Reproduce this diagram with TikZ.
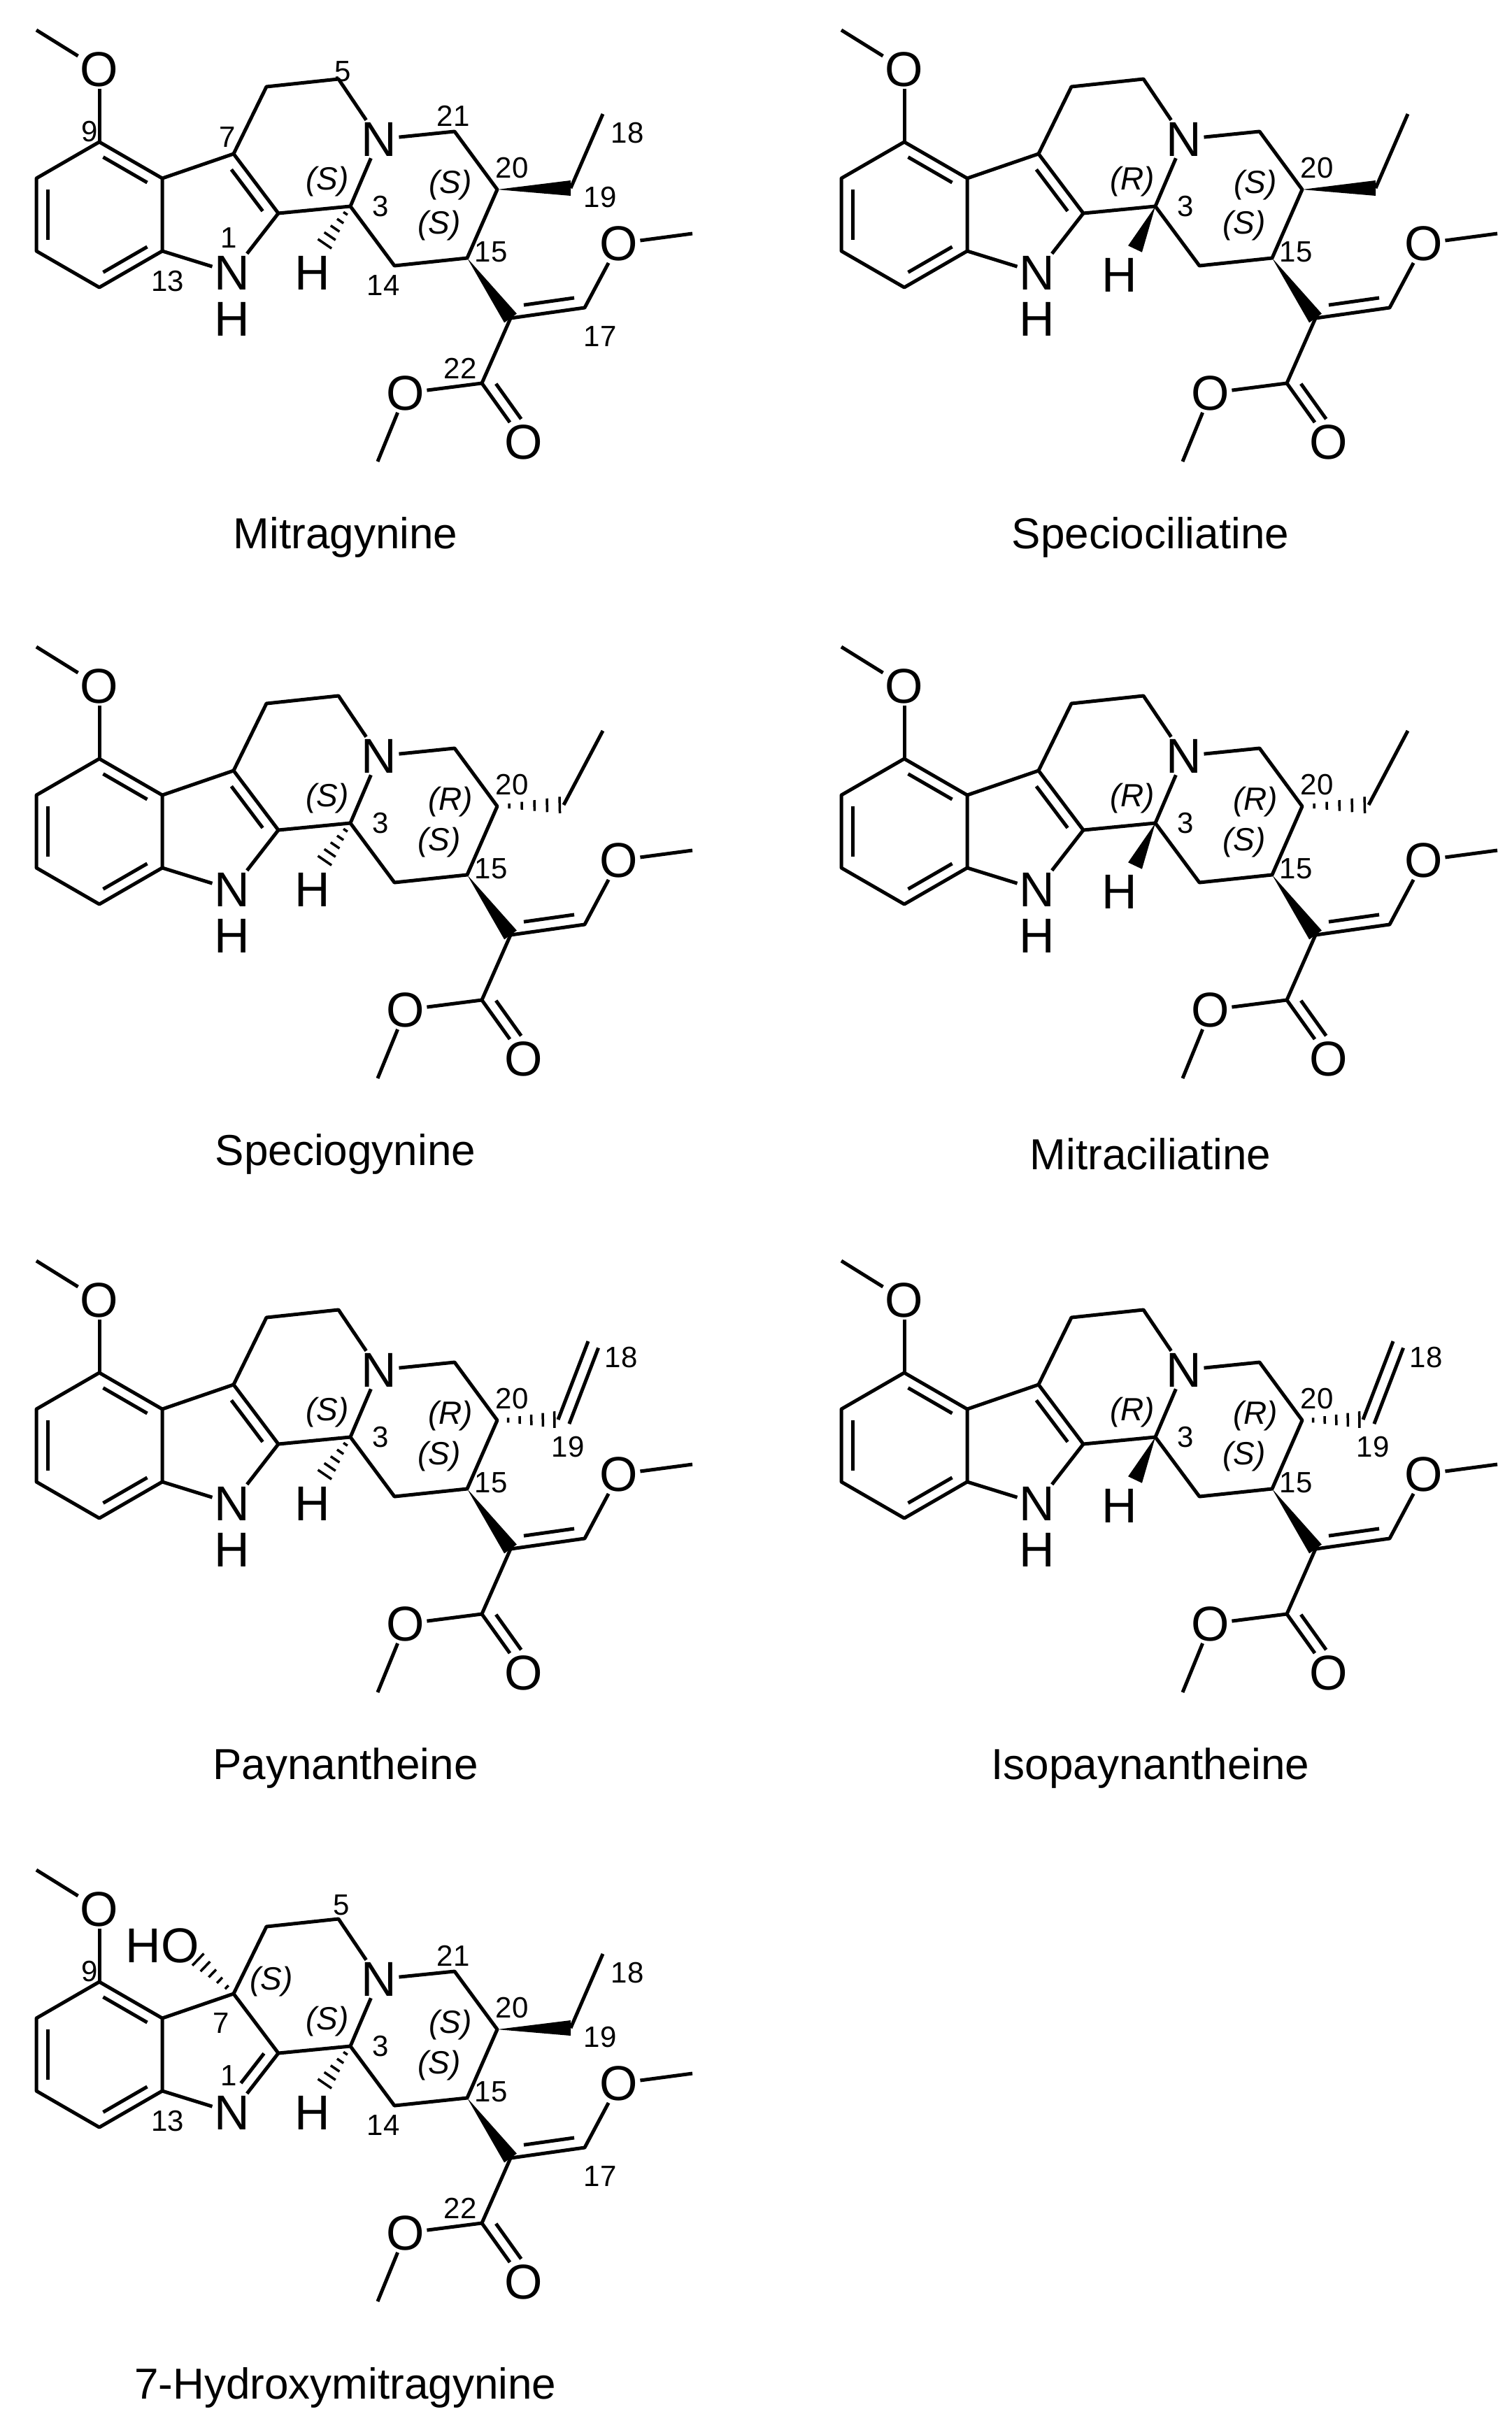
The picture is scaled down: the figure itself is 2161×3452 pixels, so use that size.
\documentclass[tikz,border=0pt]{standalone}
\usepackage{fontspec}
\setmainfont{Liberation Sans}
\usetikzlibrary{calc}
\tikzset{
  bond/.style={line width=5pt,line join=round},
  atom/.style={font=\fontsize{70}{70}\selectfont,inner sep=3pt},
  num/.style={font=\fontsize{42}{42}\selectfont,inner sep=0pt},
  ster/.style={font=\fontsize{46}{46}\selectfont\itshape,inner sep=0pt},
  title/.style={font=\fontsize{62}{62}\selectfont,inner sep=0pt},
}
% double-bond second line: a, b, angle, t1, t2, offset
\newcommand\dbl[6]{\draw[bond] ($(#1)!#4!(#2)!#6!#3:(#2)$) -- ($(#1)!#5!(#2)!#6!#3:(#2)$);}
\newcommand\wdg[2]{\fill (#1) -- ($(#2)!11pt!90:(#1)$) -- ($(#2)!11pt!-90:(#1)$) -- cycle;}
\newcommand\hsh[2]{\foreach \t in {0.18,0.37,0.56,0.75,0.94}{%
  \pgfmathsetlengthmacro\w{1.5pt+11pt*\t}%
  \draw[line width=3.5pt] ($(#1)!\t!(#2)!\w!90:(#2)$) -- ($(#1)!\t!(#2)!\w!-90:(#2)$);}}
\newcommand\skel{%
  \coordinate (Me9) at (52,43);
  \node[atom] (O9) at (142,99) {O};
  \coordinate (C9) at (142,203);
  \coordinate (C10) at (52,255);
  \coordinate (C11) at (52,359);
  \coordinate (C12) at (142,411);
  \coordinate (C13) at (232,359);
  \coordinate (C8) at (232,255);
  \coordinate (C7) at (334,220);
  \coordinate (C2) at (398,305);
  \node[atom] (N1) at (332,390) {N};
  \coordinate (C6) at (381,124);
  \coordinate (C5) at (484,113);
  \node[atom] (N4) at (542,199) {N};
  \coordinate (C3) at (501,295);
  \coordinate (C14) at (564,380);
  \coordinate (C15) at (668,369);
  \coordinate (C20) at (711,271);
  \coordinate (C21) at (650,188);
  \coordinate (C16) at (730,455);
  \coordinate (C17) at (836,440);
  \node[atom] (O17) at (885,348) {O};
  \coordinate (Me17) at (990,334);
  \coordinate (C22) at (689,548);
  \node[atom] (Oe) at (580,562) {O};
  \coordinate (MeE) at (540,660);
  \node[atom] (Oc) at (749,632) {O};
  \draw[bond] (Me9) -- (O9);
  \draw[bond] (O9) -- (C9);
  \draw[bond] (C9) -- (C10) -- (C11) -- (C12) -- (C13) -- (C8) -- cycle;
  \draw[bond] (C8) -- (C7) -- (C2);
  \draw[bond] (C7) -- (C6) -- (C5) -- (N4);
  \draw[bond] (N4) -- (C3);
  \draw[bond] (C3) -- (C2);
  \draw[bond] (C2) -- (N1);
  \draw[bond] (N1) -- (C13);
  \draw[bond] (C3) -- (C14) -- (C15) -- (C20) -- (C21) -- (N4);
  \draw[bond] (C16) -- (C17) -- (O17);
  \draw[bond] (O17) -- (Me17);
  \draw[bond] (C16) -- (C22) -- (Oe);
  \draw[bond] (Oe) -- (MeE);
  \draw[bond] (C22) -- (Oc);
  \wdg{C15}{C16}
  \dbl{C9}{C8}{-90}{0.15}{0.85}{16pt}
  \dbl{C10}{C11}{90}{0.15}{0.85}{16pt}
  \dbl{C12}{C13}{90}{0.15}{0.85}{16pt}
  \dbl{C16}{C17}{90}{0.2}{0.88}{16pt}
  \dbl{C22}{Oc}{90}{0.12}{0.72}{16pt}
}
\newcommand\indolNH{%
  \dbl{C7}{C2}{-90}{0.15}{0.85}{16pt}
  \node[atom] (H1) at (332,456) {H};
}
\newcommand\Hdown{%
  \coordinate (Hend) at (462,352);
  \node[atom] (H3) at (447,390) {H};
  \hsh{C3}{Hend}
}
\newcommand\Hup{%
  \coordinate (Hend) at (472,356);
  \node[atom] (H3) at (450,393) {H};
  \wdg{C3}{Hend}
}
\newcommand\ethylup{%
  \coordinate (C19) at (816,269);
  \coordinate (C18) at (862,163);
  \wdg{C20}{C19}
  \draw[bond] (C19) -- (C18);
}
\newcommand\ethyldown{%
  \coordinate (C19) at (806,269);
  \coordinate (C18) at (862,163);
  \hsh{C20}{C19}
  \draw[bond] (C19) -- (C18);
}
\newcommand\vinyl{%
  \coordinate (C19) at (798,270);
  \coordinate (C18) at (841,158);
  \hsh{C20}{C19}
  \draw[bond] (C19) -- (C18);
  \dbl{C19}{C18}{-90}{0.0}{0.97}{17pt}
  \node[num] (L18) at (888,181) {18};
  \node[num] (L19) at (812,309) {19};
}
\newcommand\basicnums[3]{%
  \node[num] (L3) at (544,295) {3};
  \node[num] (L20) at (732,240) {20};
  \node[num] (L15) at (702,360) {15};
  \node[ster] (S3) at (468,260) {(#1)};
  \node[ster] (S20) at (644,265) {(#2)};
  \node[ster] (S15) at (628,323) {(#3)};
}
\begin{document}
\begin{tikzpicture}[x=1pt,y=-1pt]
\useasboundingbox (0,0) rectangle (2161,3452);
% Mitragynine
\begin{scope}[name prefix=a-]
  \skel \indolNH \Hdown \ethylup
  \basicnums{S}{S}{S}
  \node[num] (L5) at (490,102) {5};
  \node[num] (L9) at (128,188) {9};
  \node[num] (L7) at (325,196) {7};
  \node[num] (L1) at (327,340) {1};
  \node[num] (L13) at (240,402) {13};
  \node[num] (L21) at (648,166) {21};
  \node[num] (L18) at (897,190) {18};
  \node[num] (L19) at (858,282) {19};
  \node[num] (L14) at (548,408) {14};
  \node[num] (L17) at (858,481) {17};
  \node[num] (L22) at (658,527) {22};
  \node[title] (nm) at (494,768) {Mitragynine};
\end{scope}
% Speciociliatine
\begin{scope}[shift={(1151,0)},name prefix=b-]
  \skel \indolNH \Hup \ethylup
  \basicnums{R}{S}{S}
  \node[title] (nm) at (494,768) {Speciociliatine};
\end{scope}
% Speciogynine
\begin{scope}[shift={(0,882)},name prefix=c-]
  \skel \indolNH \Hdown \ethyldown
  \basicnums{S}{R}{S}
  \node[title] (nm) at (494,768) {Speciogynine};
\end{scope}
% Mitraciliatine
\begin{scope}[shift={(1151,882)},name prefix=d-]
  \skel \indolNH \Hup \ethyldown
  \basicnums{R}{R}{S}
  \node[title] (nm) at (494,768) {Mitraciliatine};
\end{scope}
% Paynantheine
\begin{scope}[shift={(0,1760)},name prefix=e-]
  \skel \indolNH \Hdown \vinyl
  \basicnums{S}{R}{S}
  \node[title] (nm) at (494,768) {Paynantheine};
\end{scope}
% Isopaynantheine
\begin{scope}[shift={(1151,1760)},name prefix=f-]
  \skel \indolNH \Hup \vinyl
  \basicnums{R}{R}{S}
  \node[title] (nm) at (494,768) {Isopaynantheine};
\end{scope}
% 7-Hydroxymitragynine
\begin{scope}[shift={(0,2631)},name prefix=g-]
  \skel \Hdown \ethylup
  \dbl{C2}{N1}{-90}{0.12}{0.62}{16pt}
  \coordinate (OHend) at (280,168);
  \node[atom] (HO) at (232,151) {HO};
  \hsh{C7}{OHend}
  \basicnums{S}{S}{S}
  \node[ster] (S7) at (388,203) {(S)};
  \node[num] (L5) at (488,93) {5};
  \node[num] (L9) at (128,188) {9};
  \node[num] (L7) at (316,262) {7};
  \node[num] (L1) at (327,337) {1};
  \node[num] (L13) at (240,402) {13};
  \node[num] (L21) at (648,166) {21};
  \node[num] (L18) at (897,190) {18};
  \node[num] (L19) at (858,282) {19};
  \node[num] (L14) at (548,408) {14};
  \node[num] (L17) at (858,481) {17};
  \node[num] (L22) at (658,527) {22};
  \node[title] (nm) at (494,783) {7-Hydroxymitragynine};
\end{scope}
\end{tikzpicture}
\end{document}
